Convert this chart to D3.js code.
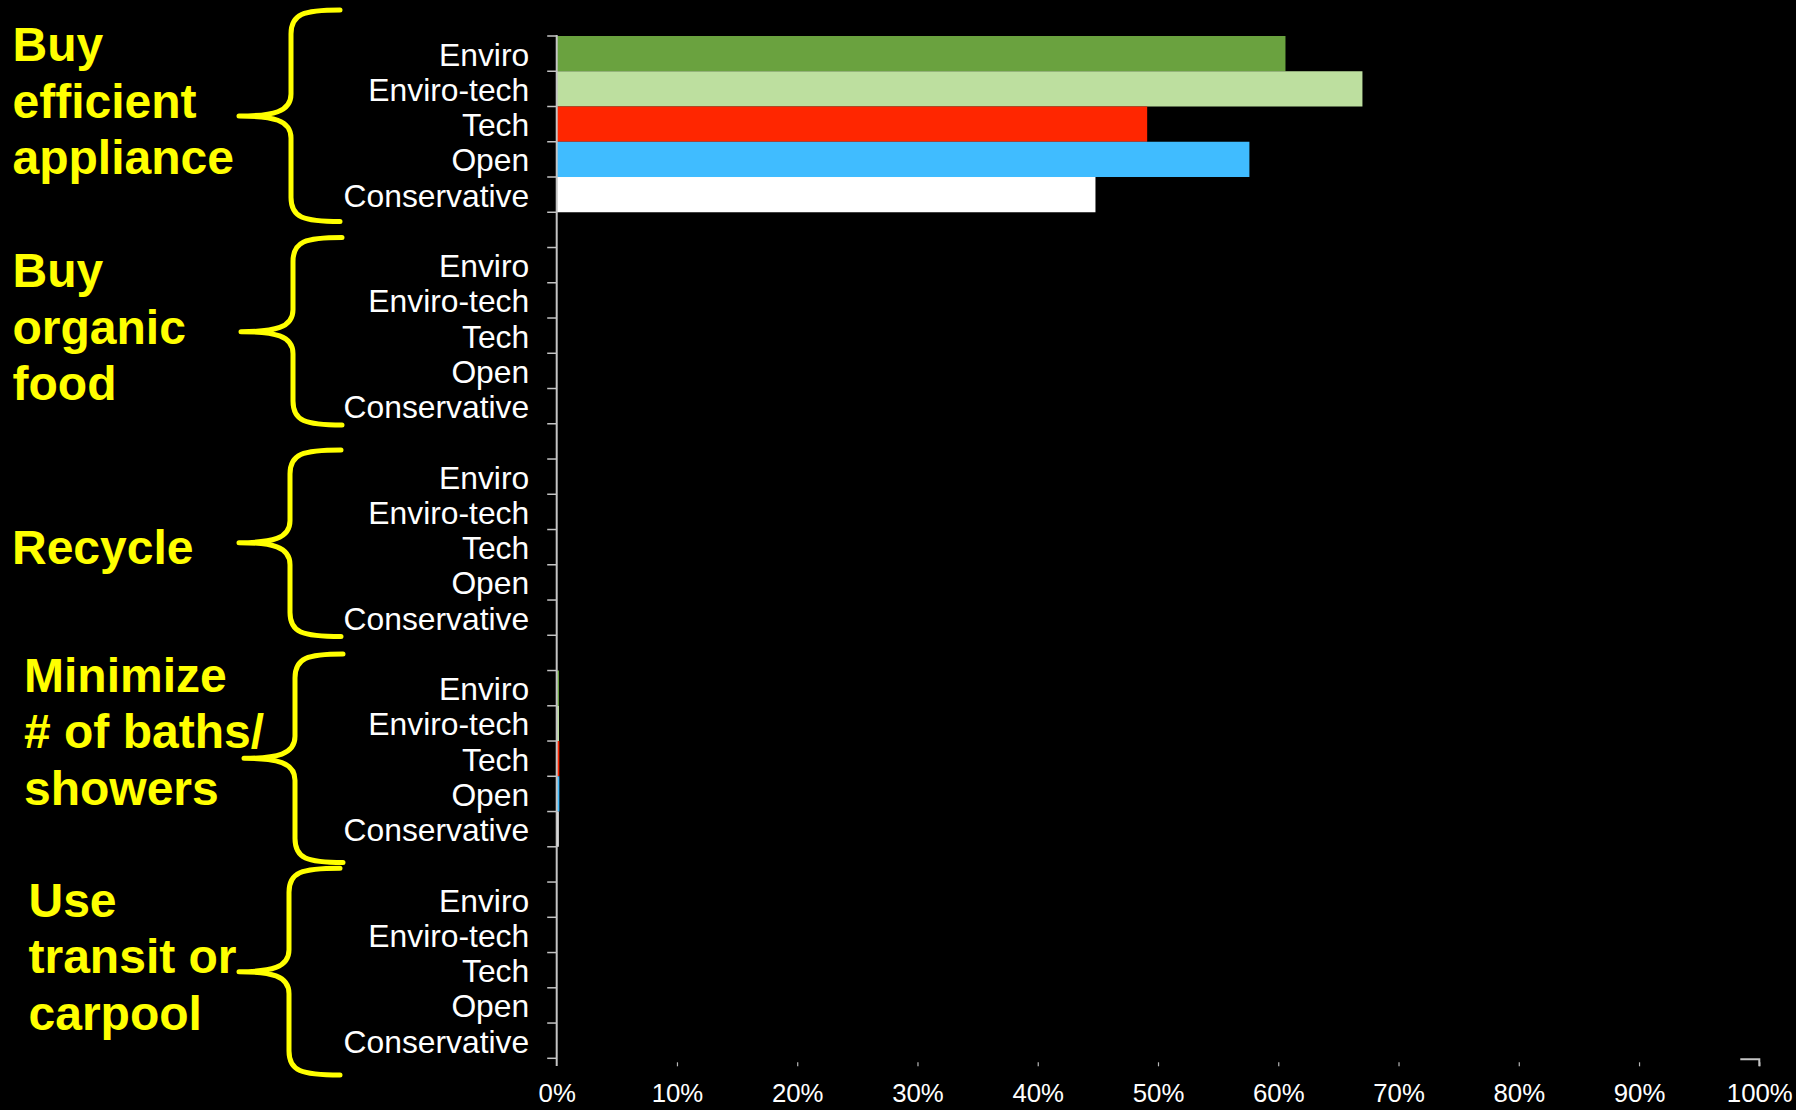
<!DOCTYPE html>
<html>
<head>
<meta charset="utf-8">
<script src="https://cdn.jsdelivr.net/npm/d3@7"></script>
<style>
  html, body { margin: 0; padding: 0; background: #000; }
  svg { display: block; }
</style>
</head>
<body>
<svg id="chart" width="1796" height="1110"></svg>
<script>
// Behaviours surveyed, one block of segments each
const behaviours = [
  ["Buy", "efficient", "appliance"],
  ["Buy", "organic", "food"],
  ["Recycle"],
  ["Minimize", "# of baths/", "showers"],
  ["Use", "transit or", "carpool"]
];

// Audience segments, in drawing order inside every block
const segments = ["Enviro", "Enviro-tech", "Tech", "Open", "Conservative"];
const segmentColors = ["#6aa23f", "#bddf9f", "#ff2600", "#40bcff", "#ffffff"];

// Share of each segment reporting the behaviour (percent)
const efficientAppliance = [60.6, 67.0, 49.1, 57.6, 44.8];
const organicFood        = [0, 0, 0, 0, 0];
const recycle            = [0, 0, 0, 0, 0];
const fewerBaths         = [0.19, 0.19, 0.22, 0.22, 0.17];
const transitCarpool     = [0, 0, 0, 0, 0];
const seriesValues = [efficientAppliance, organicFood, recycle, fewerBaths, transitCarpool];

// Percent axis ticks
const xTicks = [0, 10, 20, 30, 40, 50, 60, 70, 80, 90, 100];

// ---- layout ----
const W = 1796, H = 1110;
const plotLeft = 556.7, plotRight = 1759.3;
const plotTop = 36, plotBottom = 1058.3;

const svg = d3.select("#chart");
svg.append("rect").attr("width", W).attr("height", H).attr("fill", "#000");

// Build the row list: five segments per behaviour, a blank row between blocks
const rows = [];
behaviours.forEach((b, gi) => {
  segments.forEach((s, si) => {
    rows.push({ key: `b${gi}-${si}`, group: gi, seg: s, color: segmentColors[si], value: seriesValues[gi][si] });
  });
  if (gi < behaviours.length - 1) rows.push({ key: `gap${gi}`, gap: true });
});

const y = d3.scaleBand()
  .domain(rows.map(r => r.key))
  .range([plotTop, plotBottom])
  .paddingInner(0)
  .paddingOuter(0);

const x = d3.scaleLinear().domain([0, 100]).range([plotLeft, plotRight]);

const bars = rows.filter(r => !r.gap);

// Bars
svg.append("g")
  .selectAll("rect")
  .data(bars)
  .join("rect")
  .attr("x", x(0))
  .attr("y", d => y(d.key))
  .attr("width", d => Math.max(0, x(d.value) - x(0)))
  .attr("height", y.bandwidth())
  .attr("fill", d => d.color);

// Segment labels
svg.append("g")
  .selectAll("text")
  .data(bars)
  .join("text")
  .attr("x", plotLeft - 27.5)
  .attr("y", d => y(d.key) + y.bandwidth() / 2 + 12)
  .attr("text-anchor", "end")
  .attr("fill", "#ffffff")
  .attr("font-family", "'Liberation Sans', Arial, sans-serif")
  .attr("font-size", 31.8)
  .text(d => d.seg);

// Category axis: line plus ticks on every row boundary
const axisColor = "#c4c4c4";
const boundaries = rows.map(r => y(r.key)).concat([y.range()[1]]);
const yAxis = svg.append("g");
yAxis.selectAll("line.tick")
  .data(boundaries)
  .join("line")
  .attr("class", "tick")
  .attr("x1", plotLeft - 9.5)
  .attr("x2", plotLeft)
  .attr("y1", d => d)
  .attr("y2", d => d)
  .attr("stroke", axisColor)
  .attr("stroke-width", 1.5);
yAxis.append("line")
  .attr("x1", plotLeft).attr("x2", plotLeft)
  .attr("y1", plotTop - 1).attr("y2", plotBottom + 7.7)
  .attr("stroke", axisColor)
  .attr("stroke-width", 2);

// Percent axis
const xAxis = d3.axisBottom(x)
  .tickValues(xTicks)
  .tickFormat(d => d + "%")
  .tickSize(4)
  .tickPadding(17.5);

const xg = svg.append("g")
  .attr("transform", `translate(0,${plotBottom + 4})`)
  .call(xAxis);
xg.select(".domain").remove();
xg.selectAll(".tick line").attr("stroke", "#b8b8b8").attr("stroke-width", 1.2);
xg.selectAll(".tick").filter(d => d === 0).select("line").remove();
xg.selectAll(".tick text")
  .attr("fill", "#ffffff")
  .attr("font-family", "'Liberation Sans', Arial, sans-serif")
  .attr("font-size", 25.8);

// End cap of the percent axis at 100%
svg.append("path")
  .attr("d", `M${x(100) - 19},${plotBottom + 1} H${x(100)} V${plotBottom + 8}`)
  .attr("fill", "none")
  .attr("stroke", axisColor)
  .attr("stroke-width", 2);

// ---- behaviour annotations: yellow titles with curly braces ----
const titleLayout = [
  { x: 12.5, y: 61 },
  { x: 12.5, y: 287 },
  { x: 12, y: 564 },
  { x: 24, y: 691.7 },
  { x: 28.5, y: 916.7 }
];
const braceLayout = [
  { top: 10,    bottom: 221.5, tip: 116,   tipX: 239, stemX: 291, endX: 340 },
  { top: 237.5, bottom: 425,   tip: 331.7, tipX: 241, stemX: 293, endX: 342 },
  { top: 450,   bottom: 636.5, tip: 542.7, tipX: 239, stemX: 290, endX: 341 },
  { top: 654,   bottom: 862.5, tip: 758.3, tipX: 244, stemX: 295, endX: 343 },
  { top: 868.3, bottom: 1075,  tip: 971.7, tipX: 239, stemX: 289, endX: 340 }
];
const yellow = "#ffff00";
const lineStep = 56.7;

const titles = svg.append("g")
  .attr("fill", yellow)
  .attr("font-family", "'Liberation Sans', Arial, sans-serif")
  .attr("font-weight", "bold")
  .attr("font-size", 48);

behaviours.forEach((lines, gi) => {
  const t = titles.append("text")
    .attr("x", titleLayout[gi].x)
    .attr("y", titleLayout[gi].y);
  lines.forEach((ln, li) => {
    t.append("tspan")
      .attr("x", titleLayout[gi].x)
      .attr("y", titleLayout[gi].y + li * lineStep)
      .text(ln);
  });
});

function bracePath(b) {
  const p = d3.path();
  p.moveTo(b.endX, b.top);
  p.bezierCurveTo(b.stemX + 12, b.top, b.stemX, b.top + 4, b.stemX, b.top + 24);
  p.lineTo(b.stemX, b.tip - 22);
  p.bezierCurveTo(b.stemX, b.tip - 4, b.stemX - 18, b.tip, b.tipX, b.tip);
  p.moveTo(b.tipX, b.tip);
  p.bezierCurveTo(b.stemX - 18, b.tip, b.stemX, b.tip + 4, b.stemX, b.tip + 22);
  p.lineTo(b.stemX, b.bottom - 24);
  p.bezierCurveTo(b.stemX, b.bottom - 4, b.stemX + 12, b.bottom, b.endX, b.bottom);
  return p.toString();
}

svg.append("g")
  .selectAll("path")
  .data(braceLayout)
  .join("path")
  .attr("d", bracePath)
  .attr("fill", "none")
  .attr("stroke", yellow)
  .attr("stroke-width", 5)
  .attr("stroke-linecap", "round")
  .attr("stroke-linejoin", "round");
</script>
</body>
</html>
